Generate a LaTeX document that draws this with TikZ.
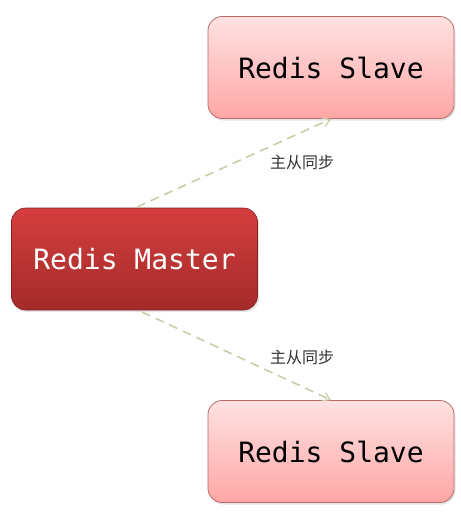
\documentclass[tikz,border=0pt]{standalone}
\usepackage{fontspec}
\setmonofont{DejaVu Sans Mono}
\newfontfamily\cjk{Noto Sans CJK SC}
\usetikzlibrary{arrows.meta,shadows}
\definecolor{mtop}{HTML}{D43E3E}
\definecolor{mbot}{HTML}{A42A2A}
\definecolor{stop}{HTML}{FFE2E2}
\definecolor{sbot}{HTML}{FFA6A6}
\definecolor{sborder}{HTML}{B86A6A}
\definecolor{arrowc}{HTML}{C9CBA3}
\definecolor{labc}{HTML}{333333}
\tikzset{
  box/.style={rounded corners=14pt, minimum width=246pt, minimum height=102pt,
    font=\ttfamily\fontsize{28}{32}\selectfont, inner sep=0pt,
    drop shadow={shadow xshift=1.5pt, shadow yshift=-2pt, opacity=0.2}},
  masterbox/.style={box, top color=mtop, bottom color=mbot, draw=mbot!80!black, line width=0.6pt, text=white},
  slavebox/.style={box, top color=stop, bottom color=sbot, draw=sborder, line width=0.8pt, text=black},
  sync/.style={draw=arrowc, line width=1.5pt, dash pattern=on 9pt off 6pt, -{Straight Barb[length=7pt,width=9pt,line width=1.2pt]}},
  synclabel/.style={font=\cjk\fontsize{16}{18}\selectfont, text=labc}
}
\begin{document}
\begin{tikzpicture}[x=1pt,y=-1pt]
\useasboundingbox[fill=white] (0,0) rectangle (461,520);
\node[masterbox] (master) at (134.5,259) {Redis Master};
\node[slavebox] (slave1) at (331,67.5) {Redis Slave};
\node[slavebox] (slave2) at (331,451.5) {Redis Slave};
\coordinate (m1) at (137,207);
\coordinate (m2) at (142,312);
\draw[sync] (m1) -- (slave1.south);
\draw[sync] (m2) -- (slave2.north);
\node[synclabel] (lab1) at (302,162) {主从同步};
\node[synclabel] (lab2) at (302,357) {主从同步};
\end{tikzpicture}
\end{document}
